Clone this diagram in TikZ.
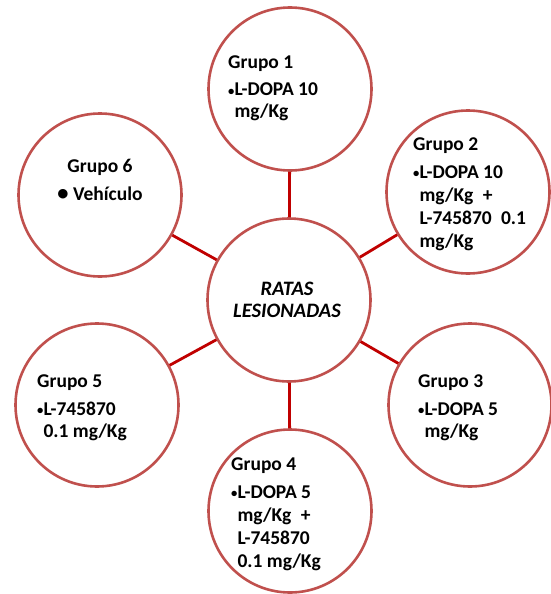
\documentclass[tikz,border=0pt]{standalone}
\usepackage{fontspec}
\usepackage{graphicx}
\setmainfont{Carlito}
\definecolor{borde}{RGB}{192,80,77}
\definecolor{enlace}{RGB}{192,0,0}
\tikzset{
  grupo/.style={circle, draw=borde, line width=2.6pt, fill=white, minimum size=163pt, inner sep=0pt},
  enlace/.style={draw=enlace, line width=2.8pt},
  etiqueta/.style={anchor=base west, align=left, inner sep=0pt, font=\bfseries\fontsize{19.5}{22}\selectfont},
  alta/.style={font=\bfseries\fontsize{19.5}{23}\selectfont}
}
\newcommand{\bul}{\raisebox{0.6pt}{\scalebox{0.65}{\textbullet}}}
\newcommand{\sbul}{\phantom{\bul}}
\begin{document}
\begin{tikzpicture}[x=1pt,y=-1pt]
  \useasboundingbox (0,0) rectangle (551,594);

  % Circulos
  \node[grupo] (c) at (289,300) {};
  \node[grupo] (g1) at (290,89) {};
  \node[grupo] (g2) at (468,192) {};
  \node[grupo] (g3) at (470,405) {};
  \node[grupo] (g4) at (290,511) {};
  \node[grupo] (g5) at (97,405) {};
  \node[grupo] (g6) at (100,195) {};

  % Conexiones
  \foreach \g in {g1,g2,g3,g4,g5,g6}
    \path[enlace] (c) -- (\g);

  % Textos (ancla en la linea base de la ultima linea)
  \node[etiqueta, font=\bfseries\fontsize{19.5}{21}\selectfont] (t1) at (228,117) {Grupo 1\\[7pt]\bul L-DOPA 10\\\sbul mg/Kg};
  \node[etiqueta, alta] (t2) at (413,247) {Grupo 2\\[5pt]\bul L-DOPA 10\\\sbul mg/Kg\hspace{0.25em} +\\\sbul L-745870\hspace{0.25em} 0.1\\\sbul mg/Kg};
  \node[etiqueta] (t3) at (418,437) {Grupo 3\\[6pt]\bul L-DOPA 5\\\sbul mg/Kg};
  \node[etiqueta, alta] (t4) at (231,567) {Grupo 4\\[5pt]\bul L-DOPA 5\\\sbul mg/Kg\hspace{0.25em} +\\\sbul L-745870\\\sbul 0.1 mg/Kg};
  \node[etiqueta] (t5) at (37,437) {Grupo 5\\[6pt]\bul L-745870\\\sbul 0.1 mg/Kg};
  \node[etiqueta, anchor=base, align=center] (t6) at (100,200) {Grupo 6\\[6pt]\raisebox{-0.3pt}{\scalebox{1.15}{\textbullet}} Vehículo};
  \node[etiqueta, anchor=base, align=center, font=\bfseries\itshape\fontsize{20.5}{22}\selectfont] (tc) at (287,317) {RATAS\\LESIONADAS};
\end{tikzpicture}
\end{document}
